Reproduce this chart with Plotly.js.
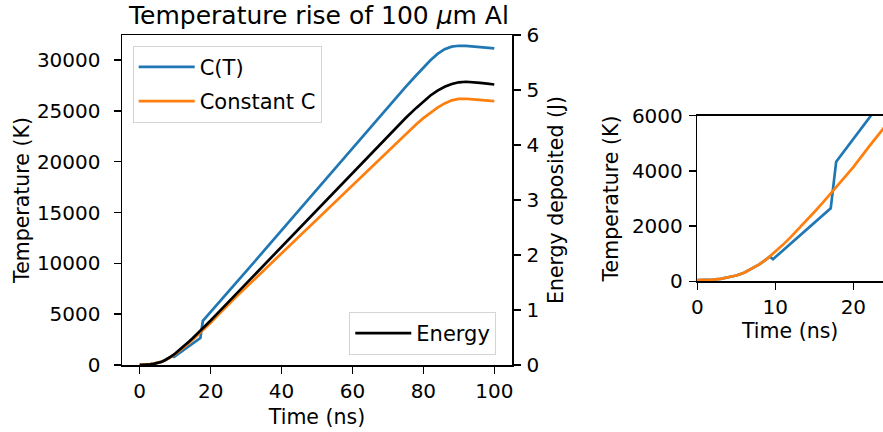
<!DOCTYPE html>
<html>
<head>
<meta charset="utf-8">
<script src="https://cdn.plot.ly/plotly-3.0.1.min.js"></script>
<style>html,body{margin:0;padding:0;background:#fff;}#chart{width:883px;height:432px;}</style>
</head>
<body>
<div id="chart"></div>
<script>
// Time axis (ns) for constant-C temperature and energy
const timeNs = [0,1,2,3,4,5,6,7,8,9,10,11,12,13,14,15,16,17,18,19,20,22,24,25,26,28,30,35,40,45,50,55,60,65,70,75,78,80,82,84,86,88,90,92,94,96,98,100];
// Constant C temperature (K)
const tempConstC = [40,45,60,90,140,210,310,450,620,830,1070,1330,1610,1900,2200,2510,2820,3140,3470,3800,4140,4880,5620,5960,6300,6970,7640,9320,11000,12700,14380,16050,17720,19390,21060,22720,23680,24280,24820,25310,25730,26030,26170,26190,26130,26070,26010,25950];
// Energy deposited (J)
const energyJ = [0,0.001,0.004,0.01,0.02,0.035,0.055,0.083,0.118,0.16,0.208,0.26,0.315,0.372,0.43,0.49,0.552,0.615,0.68,0.745,0.81,0.944,1.078,1.145,1.212,1.346,1.48,1.815,2.15,2.485,2.82,3.155,3.49,3.825,4.16,4.49,4.675,4.79,4.9,4.99,5.06,5.11,5.14,5.15,5.145,5.13,5.115,5.10];
// C(T) temperature (K) with its own time points
const timeCT = [0,1,2,3,4,5,6,7,8,9,9.3,9.7,11,12,13,14,15,16,17.1,17.8,20,22,25,30,40,50,60,70,75,78,80,82,84,86,88,90,92,94,96,98,100];
const tempCT = [40,45,60,90,140,210,310,450,620,830,900,800,1120,1370,1620,1870,2100,2350,2645,4333,5200,5990,7190,9200,13250,17300,21320,25350,27350,28500,29250,29980,30600,31060,31310,31400,31390,31330,31260,31200,31140];

const xTicks = [0,20,40,60,80,100];
const yTicks = [0,5000,10000,15000,20000,25000,30000];
const y2Ticks = [0,1,2,3,4,5,6];
const insetXTicks = [0,10,20];
const insetYTicks = [0,2000,4000,6000];

const FONT = 'DejaVu Sans, sans-serif';
const TFS = 20;   // tick labels
const LFS = 20.5; // axis titles
const GFS = 21;   // legend
const blue = '#1f77b4', orange = '#ff7f0e';

const traces = [
  {x: timeCT, y: tempCT, type:'scatter', mode:'lines', name:'C(T)', line:{color:blue, width:2.7}, xaxis:'x', yaxis:'y', legend:'legend', legendgroup:'a'},
  {x: timeNs, y: tempConstC, type:'scatter', mode:'lines', name:'Constant C', line:{color:orange, width:2.7}, xaxis:'x', yaxis:'y', legend:'legend', legendgroup:'b'},
  {x: timeNs, y: energyJ, type:'scatter', mode:'lines', name:'Energy', line:{color:'black', width:2.7}, xaxis:'x', yaxis:'y2', legend:'legend2'},
  {x: timeCT, y: tempCT, type:'scatter', mode:'lines', line:{color:blue, width:2.7}, xaxis:'x3', yaxis:'y3', showlegend:false},
  {x: timeNs, y: tempConstC, type:'scatter', mode:'lines', line:{color:orange, width:2.7}, xaxis:'x3', yaxis:'y3', showlegend:false}
];

const axBase = {showline:true, linecolor:'black', linewidth:1.5, ticks:'outside', ticklen:7, tickwidth:1.5, tickcolor:'black',
  showgrid:false, zeroline:false, tickfont:{family:FONT, size:TFS, color:'black'}, tickmode:'array', fixedrange:true};

const layout = {
  width:883, height:432, margin:{l:0,r:0,t:0,b:0}, paper_bgcolor:'white', plot_bgcolor:'white',
  font:{family:FONT, size:LFS, color:'black'},
  title:{text:'Temperature rise of 100 <i>μ</i>m Al', font:{family:FONT, size:25, color:'black'}, x:319/883, xanchor:'center', y:1-15/432, yanchor:'middle', xref:'paper', yref:'container'},
  xaxis: Object.assign({}, axBase, {domain:[122/883, 512/883], range:[-5,105], anchor:'y', mirror:true, tickvals:xTicks, ticktext:xTicks.map(String),
    title:{text:'Time (ns)', font:{family:FONT, size:LFS}, standoff:8}}),
  yaxis: Object.assign({}, axBase, {domain:[67/432, 397/432], range:[0,32460], anchor:'x', tickvals:yTicks, ticktext:yTicks.map(String), ticklabelstandoff:9,
    title:{text:'Temperature (K)', font:{family:FONT, size:LFS}, standoff:1}}),
  yaxis2: Object.assign({}, axBase, {overlaying:'y', side:'right', range:[0,6], anchor:'x', tickvals:y2Ticks, ticktext:y2Ticks.map(String), ticklabelstandoff:2,
    title:{text:'Energy deposited (J)', font:{family:FONT, size:LFS}, standoff:10}}),
  xaxis3: Object.assign({}, axBase, {domain:[697.3/883, 1], range:[0,23.8], anchor:'y3', mirror:true, tickvals:insetXTicks, ticktext:insetXTicks.map(String),
    title:{text:'Time (ns)', font:{family:FONT, size:LFS}, standoff:6}}),
  yaxis3: Object.assign({}, axBase, {domain:[(432-281.3)/432, (432-115.7)/432], range:[0,6000], anchor:'x3', tickvals:insetYTicks, ticktext:insetYTicks.map(String), ticklabelstandoff:2,
    title:{text:'Temperature (K)', font:{family:FONT, size:LFS}, standoff:7}}),
  legend:{x:132.7/883, y:(432-45.7)/432, xanchor:'left', yanchor:'top', bgcolor:'rgba(255,255,255,0.8)', bordercolor:'#d4d4d4', borderwidth:1,
    font:{family:FONT, size:GFS, color:'black'}, tracegroupgap:4, traceorder:'grouped', itemwidth:56},
  legend2:{x:349.3/883, y:(432-355)/432, xanchor:'left', yanchor:'bottom', bgcolor:'rgba(255,255,255,0.8)', bordercolor:'#d4d4d4', borderwidth:1,
    font:{family:FONT, size:GFS, color:'black'}, itemwidth:56},
  showlegend:true
};

Plotly.newPlot('chart', traces, layout, {displayModeBar:false, staticPlot:true});
</script>
</body>
</html>
